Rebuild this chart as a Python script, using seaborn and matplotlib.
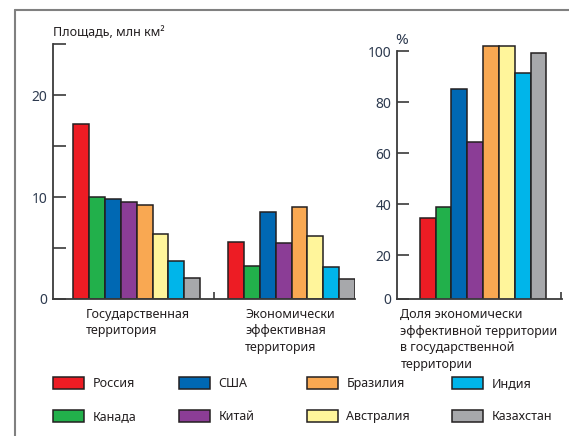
import matplotlib
matplotlib.use('Agg')
import pandas as pd
import matplotlib.pyplot as plt
from matplotlib.lines import Line2D
import seaborn as sns

# Data
countries = ['Россия', 'Канада', 'США', 'Китай', 'Бразилия', 'Австралия', 'Индия', 'Казахстан']
colors = ['#ED1C24', '#22B04B', '#0068B3', '#8B3D96', '#F9A852', '#FFF59B', '#00B5EA', '#A7A8AB']
state_area = [17.2, 10.0, 9.85, 9.5, 9.2, 6.4, 3.7, 2.05]
effective_area = [5.6, 3.2, 8.5, 5.45, 9.0, 6.2, 3.1, 1.95]
effective_share = [34.5, 38.8, 85.1, 64.3, 102, 102, 91.4, 99.2]
group_labels = ['Государственная\nтерритория', 'Экономически\nэффективная\nтерритория']
share_label = 'Доля экономически\nэффективной территории\nв государственной\nтерритории'

sns.set_style('white')
plt.rcParams['font.family'] = ['Noto Sans', 'DejaVu Sans']

W, H = 569, 436
text_c = '#231F20'
tick_c = '#2d3a4f'
edge_c = '#231F20'

df_area = pd.DataFrame({
    'group': [group_labels[0]] * 8 + [group_labels[1]] * 8,
    'country': countries * 2,
    'value': state_area + effective_area,
})
df_share = pd.DataFrame({'group': ['share'] * 8, 'country': countries, 'value': effective_share})

fig = plt.figure(figsize=(W / 100, H / 100), dpi=100)
ax1 = fig.add_axes([53 / W, 137 / H, (355 - 53) / W, 255 / H])
ax2 = fig.add_axes([397 / W, 137 / H, (562 - 397) / W, 258 / H])

palette = dict(zip(countries, colors))
sns.barplot(data=df_area, x='group', y='value', hue='country', order=group_labels,
            hue_order=countries, palette=palette, width=0.82, gap=0,
            edgecolor=edge_c, linewidth=1.1, saturation=1, ax=ax1)
sns.barplot(data=df_share, x='group', y='value', hue='country', hue_order=countries,
            palette=palette, width=0.82, gap=0, edgecolor=edge_c, linewidth=1.1,
            saturation=1, ax=ax2, legend=False)

handles, labels = ax1.get_legend_handles_labels()
ax1.get_legend().remove()

for ax in (ax1, ax2):
    sns.despine(ax=ax)
    for s in ('left', 'bottom'):
        ax.spines[s].set_color('#3a3a3a')
        ax.spines[s].set_linewidth(1.3)
    ax.set_xlabel('')
    ax.set_ylabel('')
    ax.set_xticks([])
    ax.patch.set_alpha(0)

# left chart
ax1.set_xlim(-0.54, 1.41)
ax1.set_ylim(0, 25)
ax1.set_yticks([0, 10, 20])
ax1.set_yticks([5, 15, 25], minor=True)
ax1.tick_params(axis='y', which='both', direction='in', length=9.5, width=1.2,
                color='#3a3a3a', pad=4, labelsize=10, labelcolor=tick_c, left=True)
ax1.set_xticks([0.5], minor=True)
ax1.tick_params(axis='x', which='minor', direction='in', length=5, width=1.2,
                color='#3a3a3a', bottom=True)
for i, lab in enumerate(group_labels):
    ax1.text(i - 0.33 + 0.03 * i, -0.035, lab, transform=ax1.get_xaxis_transform(),
             ha='left', va='top', fontsize=9, color=text_c, linespacing=1.35)

# right chart
ax2.set_xlim(-0.557, 0.511)
ax2.set_ylim(2.75, 104)
ax2.spines['left'].set_bounds(2.75, 100)
ax2.set_yticks([2.75, 20, 40, 60, 80, 100], ['0', '20', '40', '60', '80', '100'])
ax2.tick_params(axis='y', direction='in', length=8.6, width=1.2, color='#3a3a3a',
                pad=4, labelsize=10, labelcolor=tick_c, left=True)
ax2.set_xticks([0.505], minor=True)
ax2.tick_params(axis='x', which='minor', direction='in', length=5, width=1.2,
                color='#3a3a3a', bottom=True)
ax2.text(-0.535, -0.035, share_label, transform=ax2.get_xaxis_transform(),
         ha='left', va='top', fontsize=9, color=text_c, linespacing=1.35)

fig.text(53 / W, 1 - 33 / H, 'Площадь, млн км²', ha='left', va='center',
         fontsize=9, color=text_c)
fig.text(402 / W, 1 - 41 / H, '%', ha='center', va='center', fontsize=11, color=tick_c)

# legend: one column of two entries at a time, as in the reference
col_x = [53, 179, 307, 452]
for c, x in enumerate(col_x):
    leg = fig.legend(handles[2 * c:2 * c + 2], labels[2 * c:2 * c + 2], ncol=1,
                     loc='upper left', bbox_to_anchor=(x / W, 1 - 377 / H),
                     frameon=False, fontsize=9, handlelength=2.5, handleheight=1.05,
                     handletextpad=0.65, labelspacing=1.6,
                     borderpad=0, borderaxespad=0, labelcolor=text_c)

# outer frame lines
fig.add_artist(Line2D([15 / W, 15 / W], [0, 1 - 10 / H], color='#808080', lw=1.5,
                      transform=fig.transFigure))
fig.add_artist(Line2D([15 / W, 1], [1 - 10 / H, 1 - 10 / H], color='#808080', lw=1.5,
                      transform=fig.transFigure))

fig.savefig('out.png', dpi=100)
